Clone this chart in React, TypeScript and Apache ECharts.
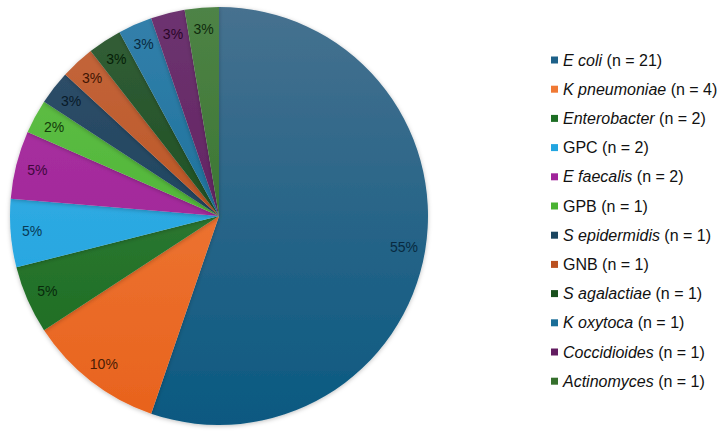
import React, { useEffect, useRef } from "react";
import * as echarts from "echarts";

const italicNames = ["E coli", "K pneumoniae", "Enterobacter", "", "E faecalis", "", "S epidermidis", "", "S agalactiae", "K oxytoca", "Coccidioides", "Actinomyces"];
const plainNames = ["", "", "", "GPC", "", "GPB", "", "GNB", "", "", "", ""];
const counts = [21, 4, 2, 2, 2, 1, 1, 1, 1, 1, 1, 1];
const percentLabels = ["55%", "10%", "5%", "5%", "5%", "2%", "3%", "3%", "3%", "3%", "3%", "3%"];
const topColors = ["#46718f", "#f08245", "#3f8244", "#3fb0e4", "#ab37a3", "#64c04c", "#34516a", "#c4683f", "#345e38", "#3380ab", "#6d3470", "#4e8346"];
const bottomColors = ["#0a5981", "#e8621c", "#166a1c", "#1aa2df", "#9b1b93", "#40ae26", "#0b3957", "#b5460d", "#0a4510", "#0b668f", "#5a1456", "#2b6a22"];
const labelColors = ["#082a40", "#4a1c05", "#082a0a", "#083a55", "#40083c", "#123a0a", "#081a28", "#401503", "#061e08", "#082a40", "#2a0628", "#102a0c"];
const legendColors = ["#1d6189", "#f07934", "#1d6e24", "#22a5e0", "#a0249a", "#4ab332", "#1a4560", "#ba5020", "#184f1c", "#1a6e98", "#621c60", "#356f2c"];

const names = italicNames.map((n, i) => (n ? n : plainNames[i]));

export default function App() {
  const ref = useRef<HTMLDivElement>(null);
  useEffect(() => {
    const chart = echarts.init(ref.current!, null, { renderer: "svg" });
    const fill = (i: number) =>
      new echarts.graphic.LinearGradient(0, 8, 0, 425, [
        { offset: 0, color: topColors[i] },
        { offset: 1, color: bottomColors[i] },
      ], true);
    const base = names.map((n, i) => ({
      name: n,
      value: counts[i],
      itemStyle: { color: fill(i) },
    }));
    const overlay = names.map((n, i) => ({
      name: n,
      value: counts[i],
      itemStyle: { color: "rgba(0,0,0,0)" },
      label: { color: labelColors[i], formatter: percentLabels[i] },
    }));
    chart.setOption({
      animation: false,
      legend: {
        orient: "vertical",
        left: 546,
        top: 45,
        icon: "rect",
        itemWidth: 7,
        itemHeight: 7,
        itemGap: 9.2,
        data: names.map((n, i) => ({ name: n, itemStyle: { color: legendColors[i] } })),
        formatter: (name: string) => {
          const i = names.indexOf(name);
          if (italicNames[i]) return `{i|${italicNames[i]}} (n = ${counts[i]})`;
          return `${plainNames[i]} (n = ${counts[i]})`;
        },
        textStyle: {
          fontFamily: "Liberation Sans, Arial, sans-serif",
          fontSize: 16,
          color: "#111",
          lineHeight: 20,
          padding: [0, 0, 0, 0],
          rich: {
            i: {
              fontFamily: "Liberation Sans, Arial, sans-serif",
              fontSize: 16,
              fontStyle: "italic",
              color: "#111",
              lineHeight: 20,
            },
          },
        },
      },
      series: [
        {
          type: "pie",
          center: [219, 216],
          radius: [0, 209],
          startAngle: 90,
          clockwise: true,
          silent: true,
          label: { show: false },
          labelLine: { show: false },
          itemStyle: { borderWidth: 0, shadowBlur: 4, shadowColor: "rgba(0,0,0,0.25)", shadowOffsetY: 1 },
          data: base,
        },
        {
          type: "pie",
          center: [219, 216],
          radius: [160, 209],
          startAngle: 90,
          clockwise: true,
          silent: true,
          z: 5,
          label: {
            show: true,
            position: "inside",
            fontFamily: "Liberation Sans, Arial, sans-serif",
            fontSize: 14,
          },
          labelLine: { show: false },
          data: overlay,
        },
      ],
    });
    return () => chart.dispose();
  }, []);
  return <div ref={ref} style={{ position: "fixed", left: 0, top: 0, width: 724, height: 437, background: "#fff" }} />;
}
